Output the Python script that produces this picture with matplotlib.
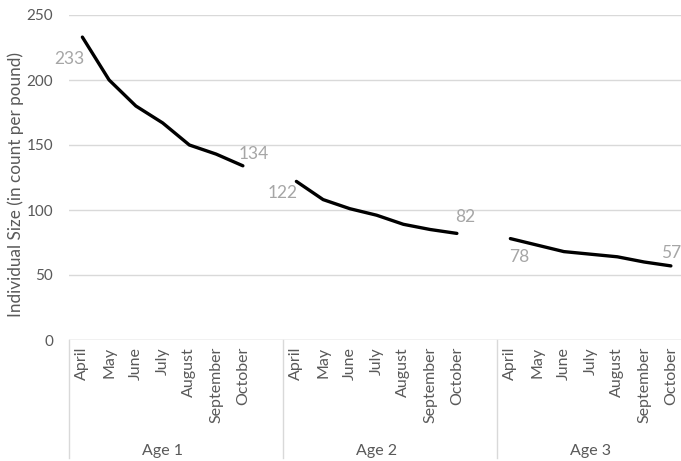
import matplotlib
matplotlib.use("Agg")
import matplotlib.pyplot as plt
import matplotlib.transforms as mtransforms

plt.rcParams['font.family'] = ['Lato', 'DejaVu Sans']

months = ["April", "May", "June", "July", "August", "September", "October"]
ages = ["Age 1", "Age 2", "Age 3"]
age1 = [233, 200, 180, 167, 150, 143, 134]
age2 = [122, 108, 101, 96, 89, 85, 82]
age3 = [78, 73, 68, 66, 64, 60, 57]
series = [age1, age2, age3]
yticks = [0, 50, 100, 150, 200, 250]

W, H = 681, 461
fig = plt.figure(figsize=(W / 100, H / 100), dpi=100)
slot = 26.75
n_slots = 24
ax = fig.add_axes([69 / W, (H - 340) / H, n_slots * slot / W, 325 / H])

ax.set_xlim(0, n_slots)
ax.set_ylim(0, 250)
ax.set_yticks(yticks)
ax.tick_params(axis='y', length=0, labelsize=11, colors='#595959', pad=11.5)
ax.set_xticks([])
for s in ax.spines.values():
    s.set_visible(False)
ax.grid(axis='y', color='#D9D9D9', linewidth=1)
ax.set_axisbelow(True)
ax.axhline(0, color='#D9D9D9', linewidth=1, zorder=1)

# y-axis title placed in figure pixels
fig.text(16 / W, (H - 184) / H, "Individual Size (in count per pound)",
         rotation=90, ha='center', va='center', fontsize=12.3,
         color='#595959')

# label offsets (pixels) for the first and last point of each age
first_off = [(-13, -22), (-14, -12), (9, -18)]
last_off = [(11, 12), (8, 16), (0, 13)]

for g, vals in enumerate(series):
    xs = [g * 8 + m + 0.5 for m in range(len(vals))]
    ax.plot(xs, vals, color='black', linewidth=2.4,
            solid_capstyle='round', solid_joinstyle='round', zorder=3)
    for idx, off in ((0, first_off[g]), (len(vals) - 1, last_off[g])):
        ax.annotate(str(vals[idx]), (xs[idx], vals[idx]),
                    xytext=off, textcoords='offset pixels',
                    ha='center', va='center', fontsize=12.5, color='#A6A6A6')

# two-level category axis
trans = mtransforms.blended_transform_factory(ax.transData, ax.transAxes)
y_month = -7 / 325
y_age = -(451 - 340) / 325
y_line_end = -(458 - 340) / 325
for g, age in enumerate(ages):
    for m, name in enumerate(months):
        ax.text(g * 8 + m + 0.5, y_month, name, transform=trans, rotation=90,
                ha='center', va='top', fontsize=11.5, color='#595959')
    ax.text(g * 8 + 3.5, y_age, age, transform=trans, ha='center',
            va='center', fontsize=11.5, color='#595959')
for xb in (0, 8, 16, 24):
    ax.plot([xb, xb], [0, y_line_end], transform=trans, color='#D9D9D9',
            linewidth=1, clip_on=False)

fig.savefig("out.png", dpi=100)
